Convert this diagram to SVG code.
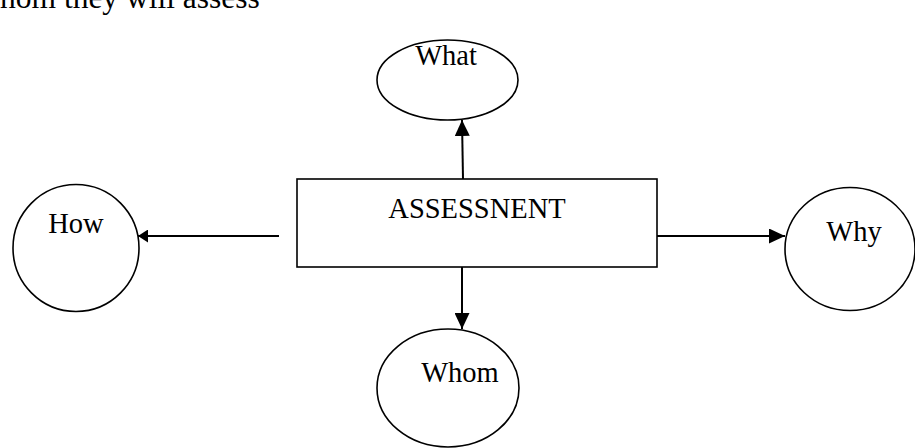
<svg xmlns="http://www.w3.org/2000/svg" width="915" height="448" viewBox="0 0 915 448">
<style>
.node{fill:#fff;stroke:#000;stroke-width:1.6}
.lbl{font-family:"Liberation Serif","Times New Roman",serif;font-size:28.5px;fill:#000;text-anchor:middle}
.con{stroke:#000;stroke-width:2;fill:none}
.hdr{font-family:"Liberation Serif","Times New Roman",serif;font-size:31.5px;fill:#000}
</style>
<defs>
<marker id="ah" markerUnits="userSpaceOnUse" markerWidth="16" markerHeight="15" refX="16" refY="7.5" orient="auto">
<path d="M0,0 L16,7.5 L0,15 Z" fill="#000"/>
</marker>
<marker id="ahs" markerUnits="userSpaceOnUse" markerWidth="10" markerHeight="13" refX="10" refY="6.5" orient="auto">
<path d="M0,0 L10,6.5 L0,13 Z" fill="#000"/>
</marker>
</defs>
<text class="hdr" x="0" y="7.5">hom they will assess</text>
<g id="connectors">
<line class="con" x1="463" y1="179" x2="462" y2="120" marker-end="url(#ah)"/>
<line class="con" x1="462" y1="267" x2="462" y2="329" marker-end="url(#ah)"/>
<line class="con" x1="279" y1="236" x2="138" y2="236" marker-end="url(#ahs)"/>
<line class="con" x1="639" y1="236" x2="785" y2="236" marker-end="url(#ah)"/>
</g>
<g id="assessment">
<rect class="node" x="297" y="179" width="360" height="88" fill="none"/>
<text class="lbl" x="477" y="218">ASSESSNENT</text>
</g>
<g id="what">
<ellipse class="node" cx="447.5" cy="80" rx="70.5" ry="40"/>
<text class="lbl" x="446" y="65">What</text>
</g>
<g id="how">
<ellipse class="node" cx="76" cy="248" rx="63" ry="63.5"/>
<text class="lbl" x="76" y="233">How</text>
</g>
<g id="why">
<ellipse class="node" cx="850" cy="249" rx="65" ry="61.5"/>
<text class="lbl" x="854" y="241">Why</text>
</g>
<g id="whom">
<ellipse class="node" cx="448" cy="388" rx="71" ry="59"/>
<text class="lbl" x="460" y="382">Whom</text>
</g>
</svg>
